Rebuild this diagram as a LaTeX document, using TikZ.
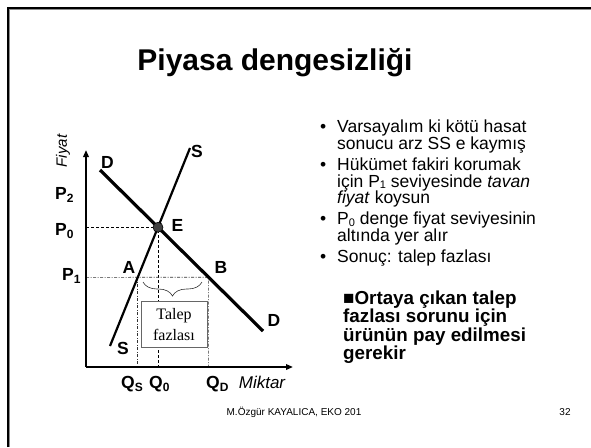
\documentclass[tikz,border=0pt]{standalone}
\usepackage{fontspec}
\setmainfont{Liberation Sans}
\newfontfamily\seriffont{Liberation Serif}
\usetikzlibrary{arrows.meta,decorations.pathreplacing}
\newcommand{\sbs}[1]{\raisebox{-3.5pt}{\fontsize{12}{12}\selectfont #1}}
\newcommand{\sbb}[1]{\raisebox{-1.8pt}{\fontsize{11}{11}\selectfont #1}}
\begin{document}
\begin{tikzpicture}[x=1pt,y=-1pt,
  axis/.style={line width=1.8pt,-{Triangle[length=7pt,width=5.5pt]}},
  curveD/.style={line width=3.2pt},
  curveS/.style={line width=2.2pt},
  guide/.style={line width=0.7pt,dash pattern=on 3pt off 2pt},
  guidedd/.style={line width=0.6pt,black!80,dash pattern=on 3pt off 1.5pt on 1pt off 1.5pt},
  lbl/.style={font=\bfseries\fontsize{17.5}{17.5}\selectfont,inner sep=0pt},
  bodyline/.style={font=\fontsize{17.5}{17.5}\selectfont,inner sep=0pt,anchor=base west,text height=12.5pt,text depth=3.5pt},
  boldline/.style={font=\bfseries\fontsize{18.8}{18.8}\selectfont,inner sep=0pt,anchor=base west,text height=13.5pt,text depth=4pt},
  bulletdot/.style={font=\fontsize{17.5}{17.5}\selectfont,inner sep=0pt,anchor=base west}]
\useasboundingbox (0,0) rectangle (591,447);
% frame
\draw[line width=3.2pt,black!45] (8.3,447) -- (8.3,8.3) -- (591,8.3);
\draw[line width=2.3pt,black] (7.8,447) -- (7.8,7.8) -- (591,7.8);
% title
\node[font=\bfseries\fontsize{30}{30}\selectfont,anchor=base,inner sep=0pt] (title) at (275,70) {Piyasa dengesizliği};
% graph coordinates
\coordinate (O) at (86,367);
\coordinate (Ytop) at (86,150);
\coordinate (Xend) at (293,367);
\coordinate (D1) at (100,170);
\coordinate (D2) at (263,331);
\coordinate (S1) at (110,346);
\coordinate (S2) at (190,148);
\coordinate (P1L) at (86,277.3);
\coordinate (P1R) at (300,277.3);
\coordinate (E) at (intersection of D1--D2 and S1--S2);
\coordinate (A) at (intersection of S1--S2 and P1L--P1R);
\coordinate (B) at (intersection of D1--D2 and P1L--P1R);
% guide lines
\draw[guide] (E -| O) -- (E) -- (E |- O);
\draw[guidedd] (P1L) -- (B) -- (B |- O);
\draw[guidedd] (A) -- (A |- O);
% brace and box
\draw[decorate,decoration={brace,mirror,amplitude=14pt},line width=0.6pt,black!80] (143,282) coordinate (brL) -- (202,282) coordinate (brR);
\node[draw=black!60,fill=white,line width=0.8pt,minimum width=66pt,minimum height=45.5pt,inner sep=0pt,
  font=\seriffont\fontsize{16}{21}\selectfont,align=center] (box) at (174,324.5) {Talep\\fazlası};
% axes
\draw[axis] (O) -- (Ytop);
\draw[axis] (O) -- (Xend);
% curves
\draw[curveD] (D1) -- (D2);
\draw[curveS] (S1) -- (S2);
\node[circle,fill=black!75,draw=black,line width=0.6pt,inner sep=0pt,minimum size=10pt] (Edot) at (E) {};
% labels
\node[lbl] (lDtop) at (107.5,162.5) {D};
\node[lbl] (lStop) at (197,151) {S};
\node[lbl] (lE) at (177.5,225.5) {E};
\node[lbl] (lA) at (129,267.5) {A};
\node[lbl] (lB) at (221,267.5) {B};
\node[lbl] (lDbot) at (274,320) {D};
\node[lbl] (lSbot) at (123,348.5) {S};
\node[lbl,anchor=base west] (lP2) at (55,199) {P\sbs{2}};
\node[lbl,anchor=base west] (lP0) at (55,235) {P\sbs{0}};
\node[lbl,anchor=base west] (lP1) at (62,280) {P\sbs{1}};
\node[font=\itshape\fontsize{15}{15}\selectfont,inner sep=0pt,rotate=90] (lFiyat) at (63,151) {Fiyat};
\node[lbl,anchor=base west] (lQS) at (121,388) {Q\sbs{S}};
\node[lbl,anchor=base west] (lQ0) at (149,388) {Q\sbs{0}};
\node[lbl,anchor=base west] (lQD) at (206,388) {Q\sbs{D}};
\node[font=\itshape\fontsize{17}{17}\selectfont,inner sep=0pt] (lMiktar) at (262,382) {Miktar};
% bullets
\node[bulletdot] (b1) at (320,132.5) {•};
\node[bodyline] (t1a) at (337,132.5) {Varsayalım ki kötü hasat};
\node[bodyline] (t1b) at (337,149) {sonucu arz SS e kaymış};
\node[bulletdot] (b2) at (320,170.5) {•};
\node[bodyline] (t2a) at (337,170.5) {Hükümet fakiri korumak};
\node[bodyline] (t2b) at (337,187) {için P\sbb{1} seviyesinde \textit{tavan}};
\node[bodyline] (t2c) at (337,203.5) {\textit{fiyat} koysun};
\node[bulletdot] (b3) at (320,224.5) {•};
\node[bodyline] (t3a) at (337,224.5) {P\sbb{0} denge fiyat seviyesinin};
\node[bodyline] (t3b) at (337,241) {altında yer alır};
\node[bulletdot] (b4) at (320,262) {•};
\node[bodyline] (t4) at (337,262) {Sonuç: talep fazlası};
\node[boldline] (t5a) at (343,304) {■Ortaya çıkan talep};
\node[boldline] (t5b) at (343,322.5) {fazlası sorunu için};
\node[boldline] (t5c) at (343,341) {ürünün pay edilmesi};
\node[boldline] (t5d) at (343,359) {gerekir};
% footer
\node[font=\fontsize{10}{10}\selectfont,inner sep=0pt] (foot) at (294,412) {M.Özgür KAYALICA, EKO 201};
\node[font=\fontsize{10}{10}\selectfont,inner sep=0pt] (page) at (565,412) {32};
\end{tikzpicture}
\end{document}
